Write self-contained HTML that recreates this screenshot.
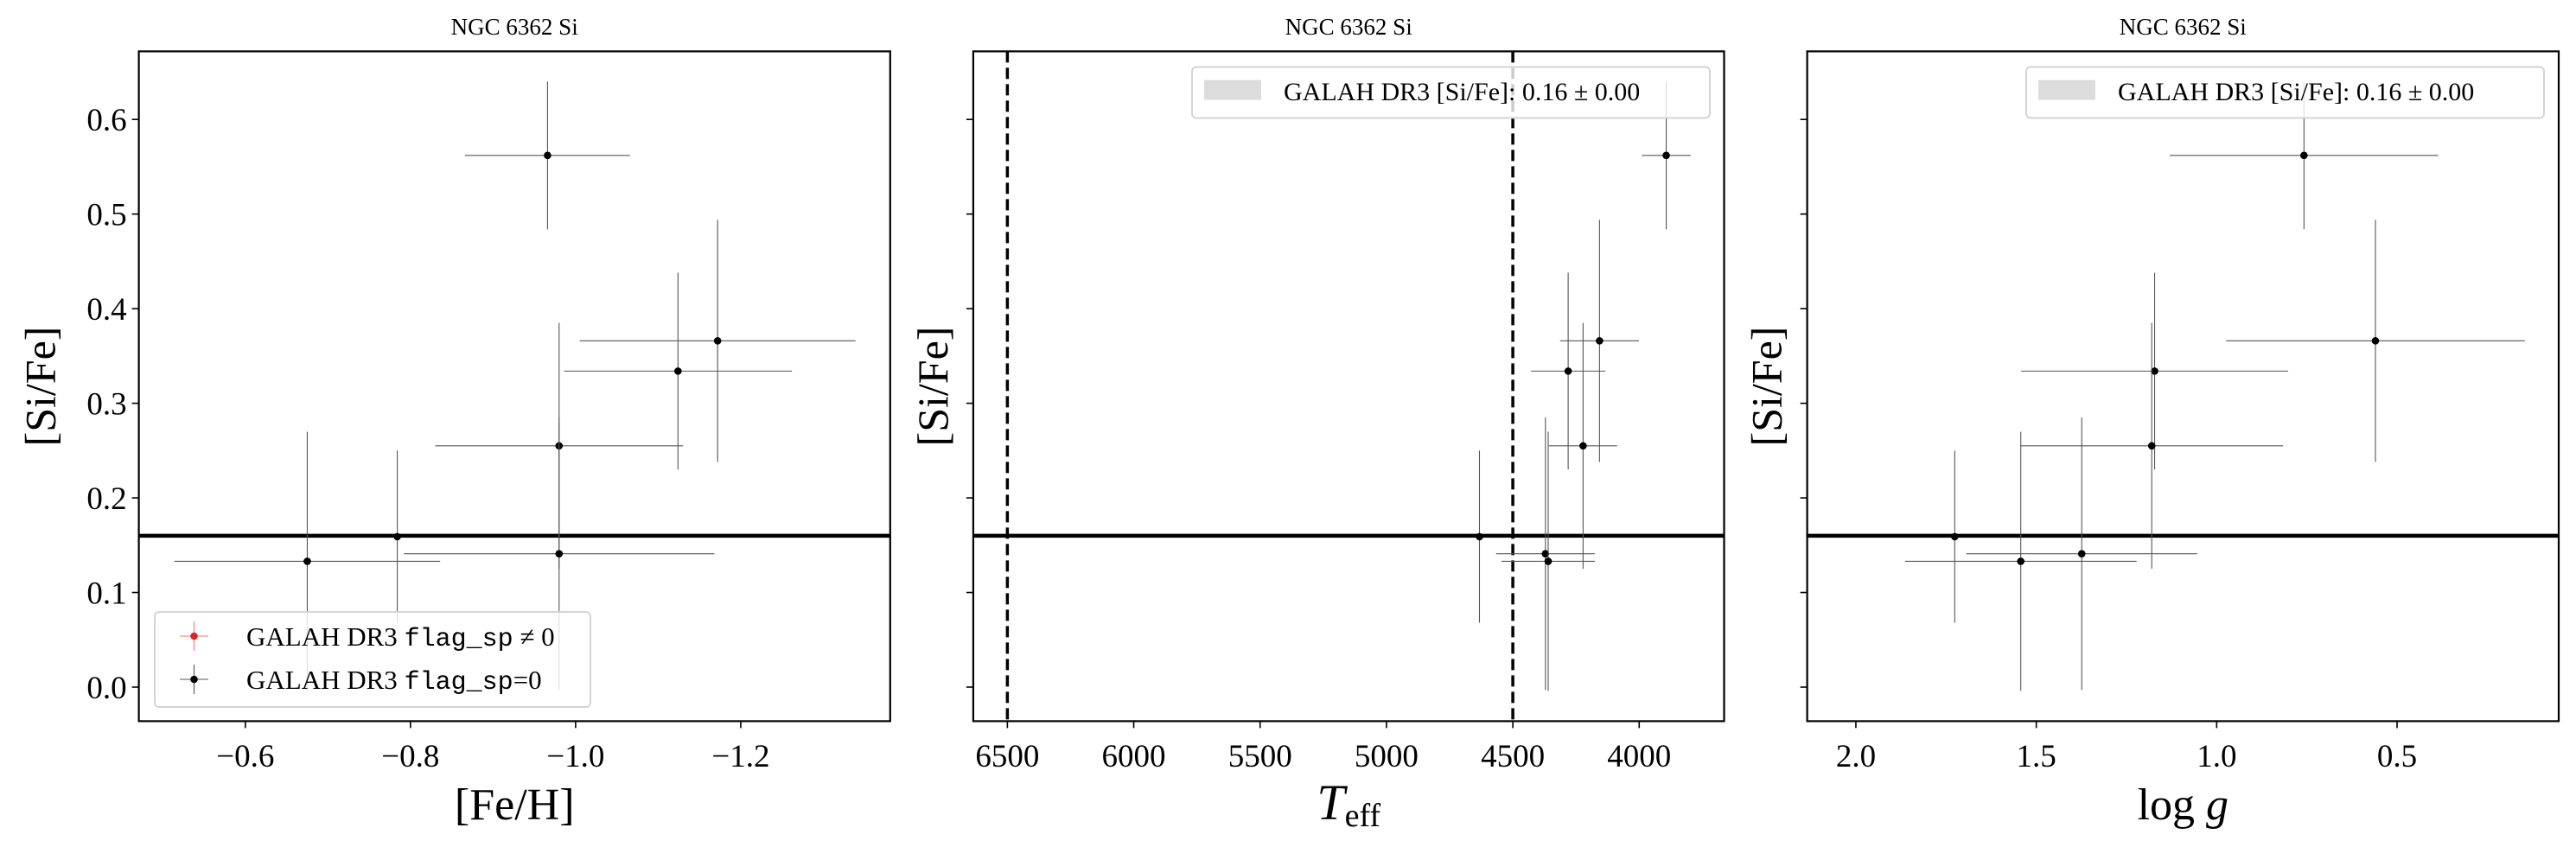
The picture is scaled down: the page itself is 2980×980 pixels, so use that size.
<!DOCTYPE html>
<html><head><meta charset="utf-8"><style>
html,body{margin:0;padding:0;background:#fff;}
svg{display:block;font-family:"Liberation Serif","DejaVu Serif",serif;}
</style></head><body>
<svg id="fig" width="2980" height="980" viewBox="0 0 2980 980" xmlns="http://www.w3.org/2000/svg"></svg>
<script>
// ---- data ----
const siFe   = [0.562, 0.366, 0.334, 0.255, 0.159, 0.141, 0.133];
const siFeErr= [0.078, 0.128, 0.104, 0.130, 0.091, 0.144, 0.137];
const feH    = [-0.966, -1.172, -1.124, -0.980, -0.784, -0.980, -0.675];
const feHErr = [0.100, 0.167, 0.138, 0.150, 0.0, 0.188, 0.161];
const teff   = [3893, 4157, 4281, 4222, 4632, 4371, 4360];
const teffErr= [97, 156, 147, 135, 0, 195, 185];
const logg   = [0.758, 0.560, 1.172, 1.180, 1.726, 1.374, 1.543];
const loggErr= [0.372, 0.414, 0.370, 0.364, 0.0, 0.320, 0.321];
const galahMean = 0.16;
const yTicks = [0.0, 0.1, 0.2, 0.3, 0.4, 0.5, 0.6];
const feHTicks = [-0.6, -0.8, -1.0, -1.2];
const teffTicks = [6500, 6000, 5500, 5000, 4500, 4000];
const loggTicks = [2.0, 1.5, 1.0, 0.5];
const teffLines = [6500, 4500];

const NS="http://www.w3.org/2000/svg";
const svg=document.getElementById('fig');
function mk(tag,attrs,parent){const e=document.createElementNS(NS,tag);for(const k in attrs)e.setAttribute(k,attrs[k]);(parent||svg).appendChild(e);return e;}

const plotTop=59.4,plotBot=834.4,yMin=-0.036,yMax=0.672;
function ys(v){return plotBot-(v-yMin)/(yMax-yMin)*(plotBot-plotTop);}

const panels=[
 {name:'feh',L:160.6,R:1029.8,xl:-0.471,xr:-1.381,xs:feH,xe:feHErr,ticks:feHTicks,fmt:v=>(v<0?'\u2212':'')+Math.abs(v).toFixed(1),ylabels:true,xlabel:'fe'},
 {name:'teff',L:1125.9,R:1994.5,xl:6635,xr:3664,xs:teff,xe:teffErr,ticks:teffTicks,fmt:v=>String(v),ylabels:false,xlabel:'teff'},
 {name:'logg',L:2090.6,R:2960,xl:2.135,xr:0.052,xs:logg,xe:loggErr,ticks:loggTicks,fmt:v=>v.toFixed(1),ylabels:false,xlabel:'logg'}
];

panels.forEach(p=>{
 const g=mk('g',{});
 
 
 const xs=v=>p.L+(v-p.xl)/(p.xr-p.xl)*(p.R-p.L);
 const cx=(p.L+p.R)/2;
 const t=mk('text',{x:cx,y:40,'text-anchor':'middle','font-size':27},g);
 t.textContent='NGC 6362 Si';
 
 
 const cp=mk('clipPath',{id:'c'+p.name},g);
 mk('rect',{x:p.L,y:plotTop,width:p.R-p.L,height:plotBot-plotTop},cp);
 const plot=mk('g',{'clip-path':'url(#c'+p.name+')'},g);
 const hl=mk('line',{x1:p.L,x2:p.R,y1:ys(galahMean),y2:ys(galahMean),stroke:'#000','stroke-width':4.5},plot);
 
 
 if(p.name==='teff'){
  teffLines.forEach(v=>{
   const dl=mk('line',{x1:xs(v),x2:xs(v),y1:plotTop,y2:plotBot,stroke:'#000','stroke-width':3.5,'stroke-dasharray':'13,6'},plot);
   
   
  });
 }
 for(let i=0;i<siFe.length;i++){
  const x=xs(p.xs[i]),y=ys(siFe[i]);
  if(p.xe[i]>0){
   const eh=mk('line',{x1:xs(p.xs[i]-p.xe[i]),x2:xs(p.xs[i]+p.xe[i]),y1:y,y2:y,stroke:'#555','stroke-width':1.1},plot);
   
   
  }
  const ev=mk('line',{x1:x,x2:x,y1:ys(siFe[i]-siFeErr[i]),y2:ys(siFe[i]+siFeErr[i]),stroke:'#555','stroke-width':1.1},plot);
  
  
  const c=mk('circle',{cx:x,cy:y,r:4.3,fill:'#000'},plot);
  
  
 }
 const box=mk('rect',{x:p.L,y:plotTop,width:p.R-p.L,height:plotBot-plotTop,fill:'none',stroke:'#000','stroke-width':2.2},g);
 
 
 yTicks.forEach(v=>{
  mk('line',{x1:p.L-8,x2:p.L,y1:ys(v),y2:ys(v),stroke:'#000','stroke-width':1.6},g);
  if(p.ylabels){
   const tl=mk('text',{x:p.L-14,y:ys(v)+13,'text-anchor':'end','font-size':37},g);
   tl.textContent=v.toFixed(1);
   
   
  }
 });
 p.ticks.forEach(v=>{
  mk('line',{x1:xs(v),x2:xs(v),y1:plotBot,y2:plotBot+8,stroke:'#000','stroke-width':1.6},g);
  const tl=mk('text',{x:xs(v),y:887,'text-anchor':'middle','font-size':37},g);
  tl.textContent=p.fmt(v);
  
  
 });
 const yl=mk('text',{x:0,y:0,'text-anchor':'middle','font-size':50,transform:`translate(${p.L-(p.ylabels?97:30)},447) rotate(-90)`},g);
 yl.textContent='[Si/Fe]';
 
 
 const xl=mk('text',{x:cx,y:948,'text-anchor':'middle','font-size':52},g);
 if(p.xlabel==='fe'){xl.textContent='[Fe/H]';}
 else if(p.xlabel==='teff'){
  const a=mk('tspan',{'font-style':'italic','font-size':58},xl);a.textContent='T';
  const b=mk('tspan',{'font-size':38,dy:8},xl);b.textContent='eff';
 } else {
  const a=mk('tspan',{},xl);a.textContent='log ';
  const b=mk('tspan',{'font-style':'italic'},xl);b.textContent='g';
 }
 
 
 if(p.name==='feh'){
  const lg=mk('g',{},g);
  
  
  mk('rect',{x:179,y:708,width:504,height:110,rx:5,fill:'rgba(255,255,255,0.8)',stroke:'#d4d4d4','stroke-width':2},lg);
  [[736,'#d62728','flag_sp',' \u2260 0'],[786,'#000','flag_sp','=0']].forEach(e=>{
   const cl=e[1]==='#000'?'#555':'#e77';
   mk('line',{x1:208,x2:241,y1:e[0],y2:e[0],stroke:cl,'stroke-width':1.1},lg);
   mk('line',{x1:224.5,x2:224.5,y1:e[0]-17,y2:e[0]+17,stroke:cl,'stroke-width':1.1},lg);
   mk('circle',{cx:224.5,cy:e[0],r:4.3,fill:e[1]},lg);
   const tx=mk('text',{x:285,y:e[0]+11,'font-size':31},lg);
   const s1=mk('tspan',{},tx);s1.textContent='GALAH DR3 ';
   const s2=mk('tspan',{'font-family':'Liberation Mono, monospace','font-size':30},tx);s2.textContent=e[2];
   const s3=mk('tspan',{},tx);s3.textContent=e[3];
   
   
  });
 } else {
  const lx=p.name==='teff'?1379:2344;
  const lg=mk('g',{},g);
  
  
  mk('rect',{x:lx,y:77.5,width:599,height:59,rx:5,fill:'rgba(255,255,255,0.8)',stroke:'#d4d4d4','stroke-width':2},lg);
  mk('rect',{x:lx+14,y:92.5,width:66,height:23,fill:'#dcdcdc'},lg);
  const tx=mk('text',{x:lx+106,y:116,'font-size':30},lg);
  tx.textContent='GALAH DR3 [Si/Fe]:  0.16 \u00b1 0.00';
  
  
 }
});
</script>
</body></html>
